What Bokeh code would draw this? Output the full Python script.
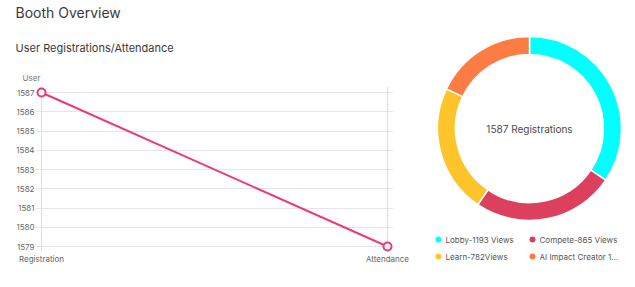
import math
from bokeh.plotting import figure
from bokeh.layouts import row, column
from bokeh.models import Range1d, FixedTicker, Label, ColumnDataSource
from bokeh.core.properties import value
from bokeh.embed import file_html
from bokeh.resources import INLINE

# ---- data ----
stages = ["Registration", "Attendance"]
users = [1587, 1579]
y_ticks = [1579, 1580, 1581, 1582, 1583, 1584, 1585, 1586, 1587]

zones = ["Lobby", "Compete", "Learn", "AI Impact Creator 1"]
views = [1193, 865, 782, 620]
legend_labels = ["Lobby-1193 Views", "Compete-865 Views", "Learn-782Views", "AI Impact Creator 1…"]
zone_colors = ["#00FFFF", "#DC405C", "#FDC52A", "#FD7C44"]
total_registrations = 1587

FONT = "Inter"
LINE_COLOR = "#EC3A72"

W1, H = 420, 287
HH = 83  # header height

# ---- header (titles + axis caption) ----
hdr = figure(width=W1, height=HH, output_backend="svg", toolbar_location=None,
             x_range=Range1d(0, W1), y_range=Range1d(HH, 0), min_border=0)
hdr.frame_align = False
hdr.outline_line_color = None
hdr.axis.visible = False
hdr.grid.visible = False
hdr.add_layout(Label(x=15, y=12, text="Booth Overview", text_font=FONT,
                     text_font_size="14px", text_color="#3A3A3A", text_baseline="middle"))
hdr.add_layout(Label(x=15, y=47, text="User Registrations/Attendance", text_font=FONT,
                     text_font_size="11px", text_color="#3A3A3A", text_baseline="middle"))
hdr.add_layout(Label(x=31, y=77, text="User", text_font=FONT, text_font_size="8px",
                     text_color="#777777", text_align="center", text_baseline="middle"))

# ---- line chart ----
H1 = H - HH
FL, FR, FT, FB = 35, 393, 86 - HH, 252 - HH   # frame edges (px)
px_x = (387 - 41) / 1.0
px_y = (246 - 92) / 8.0
pad_x = 6 / px_x
pad_y = 6 / px_y
p = figure(width=W1, height=H1, output_backend="svg", toolbar_location=None,
           x_range=Range1d(0 - pad_x, len(stages) - 1 + pad_x),
           y_range=Range1d(min(y_ticks) - pad_y, max(y_ticks) + pad_y),
           min_border_left=FL, min_border_right=W1 - FR, min_border_top=FT,
           min_border_bottom=H1 - FB)
p.frame_align = False
p.outline_line_color = None

xs = list(range(len(stages)))
src = ColumnDataSource(dict(x=xs, y=users))
p.line("x", "y", source=src, line_color=LINE_COLOR, line_width=2)
p.scatter("x", "y", source=src, marker="circle", size=8, fill_color="white",
          line_color=LINE_COLOR, line_width=2)

p.yaxis.ticker = FixedTicker(ticks=y_ticks)
p.xaxis.ticker = FixedTicker(ticks=xs)
p.xaxis.major_label_overrides = {i: s for i, s in enumerate(stages)}
for ax in (p.xaxis[0], p.yaxis[0]):
    ax.axis_line_color = None
    ax.major_tick_line_color = None
    ax.minor_tick_line_color = None
    ax.major_tick_out = 0
    ax.major_tick_in = 0
    ax.minor_tick_out = 0
    ax.major_label_text_font = FONT
    ax.major_label_text_font_size = "8px"
    ax.major_label_text_color = "#666666"
p.yaxis.major_label_standoff = 1
p.xaxis.major_label_standoff = 1
p.ygrid.ticker = FixedTicker(ticks=y_ticks)
p.ygrid.grid_line_color = "#E6E6E6"
p.xgrid.ticker = FixedTicker(ticks=xs)
p.xgrid.grid_line_color = "#DDDDDD"

# ---- donut ----
W2 = 635 - W1
cx, cy = 109, 128
d = figure(width=W2, height=H, output_backend="svg", toolbar_location=None,
           x_range=Range1d(-cx, W2 - cx), y_range=Range1d(-(H - cy), cy),
           min_border=0)
d.frame_align = False
d.outline_line_color = None
d.axis.visible = False
d.grid.visible = False

tot = sum(views)
starts, ends = [], []
acc = 0
for v in views:
    starts.append(math.pi / 2 - 2 * math.pi * acc / tot)
    acc += v
    ends.append(math.pi / 2 - 2 * math.pi * acc / tot)
dsrc = ColumnDataSource(dict(start=starts, end=ends, color=zone_colors, zone=zones))
d.annular_wedge(x=0, y=0, inner_radius=74, outer_radius=92, start_angle="start",
                end_angle="end", direction="clock", fill_color="color",
                line_color="white", line_width=1.5, source=dsrc)
d.text(x=[0], y=[0], text=[f"{total_registrations} Registrations"],
       text_font=value(FONT), text_font_size="10px", text_color="#4A4A4A",
       text_align="center", text_baseline="middle")

# legend (2 columns)
col_x = [-91, 3]
row_y = [-111, -128]
lx = [col_x[i % 2] for i in range(len(zones))]
ly = [row_y[i // 2] for i in range(len(zones))]
lsrc = ColumnDataSource(dict(x=lx, y=ly, tx=[x + 7 for x in lx], label=legend_labels,
                             color=zone_colors))
d.scatter("x", "y", source=lsrc, marker="circle", size=6, fill_color="color",
          line_color=None)
d.text("tx", "y", text="label", source=lsrc, text_font=value(FONT),
       text_font_size="8px", text_color="#555555", text_baseline="middle")

layout = row(column(hdr, p), d)
open("out.html", "w").write(file_html(layout, INLINE))
